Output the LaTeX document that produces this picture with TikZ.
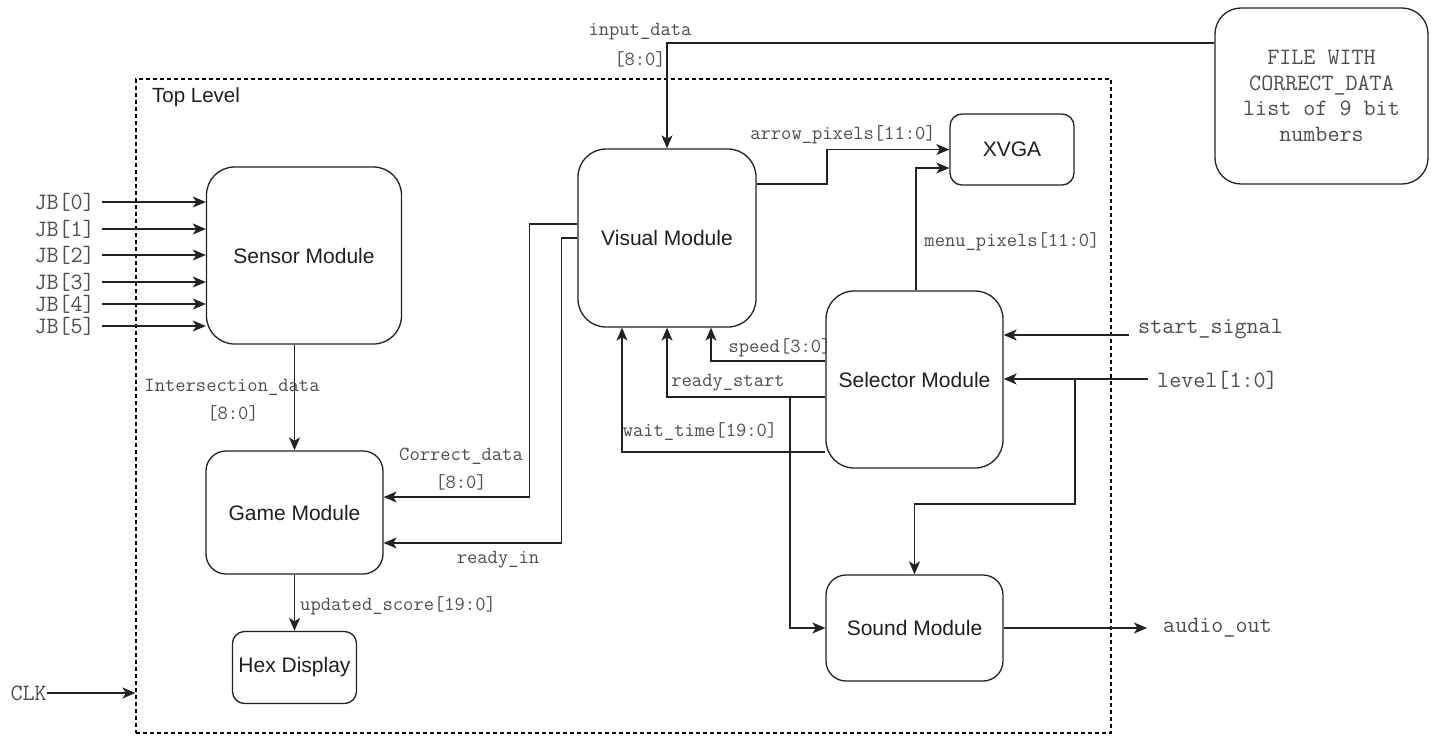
\documentclass[tikz,border=0pt]{standalone}
\usepackage{fontspec}
\setmainfont{Liberation Sans}
\usetikzlibrary{arrows.meta,calc}
\definecolor{linec}{HTML}{222222}
\definecolor{labelc}{HTML}{4d4d4d}
\tikzset{
  block/.style={draw=linec, line width=1.3pt, rounded corners=#1, align=center,
    inner sep=0pt, font=\fontsize{21}{25}\selectfont, text=black!88},
  block/.default=28pt,
  sig/.style={font=\ttfamily\fontsize{20}{24}\selectfont, text=labelc, inner sep=0pt},
  extsig/.style={font=\ttfamily\fontsize{23.4}{28}\selectfont, text=labelc, inner sep=0pt},
  wire/.style={draw=linec, line width=1.7pt},
  arr/.style={wire, -{Stealth[length=13pt,width=11pt,inset=3.5pt]}},
}
\begin{document}
\begin{tikzpicture}[x=1pt,y=-1pt]
\useasboundingbox (0,0) rectangle (1435,736);

% top-level frame
\node[draw=black, dash pattern=on 4pt off 3pt, line width=1.2pt,
      minimum width=975pt, minimum height=654pt, inner sep=0pt] (top) at (623.5,406) {};
\node[anchor=west, inner sep=0pt, font=\fontsize{20.5}{24}\selectfont, text=black!88] (toplbl) at (152,97) {Top Level};

% modules
\node[block, minimum width=195pt, minimum height=177pt] (sensor) at (304,255.5) {Sensor Module};
\node[block, minimum width=178pt, minimum height=178pt] (vis) at (667,238) {Visual Module};
\node[block=12pt, minimum width=124pt, minimum height=71pt] (xvga) at (1012,149.5) {XVGA};
\node[block=26pt, minimum width=213pt, minimum height=176pt,
      font=\ttfamily\fontsize{23.4}{25.5}\selectfont, text=labelc] (file) at (1321.5,96)
      {FILE WITH\\CORRECT\_DATA\\list of 9 bit\\numbers};
\node[block, minimum width=177pt, minimum height=177pt] (sel) at (914.5,379.5) {Selector Module};
\node[block=20pt, minimum width=177pt, minimum height=123pt] (game) at (294.5,512.5) {Game Module};
\node[block=12pt, minimum width=124pt, minimum height=72pt] (hex) at (294.5,667.5) {Hex Display};
\node[block=20pt, minimum width=177pt, minimum height=106pt] (sound) at (914.5,628) {Sound Module};

% JB inputs
\foreach \i/\y in {0/202,1/229,2/255,3/282,4/304,5/326}{
  \node[extsig, anchor=east] (jb\i) at (95,\y) {JB[\i]};
  \draw[arr] ([xshift=7pt]jb\i.east) -- (sensor.west |- jb\i.east);
}

% clock
\node[extsig, anchor=east] (clk) at (47,693) {CLK};
\draw[arr] (clk.east) -- (top.west |- clk.east);

% sensor -> game
\draw[arr] (sensor.south -| game.north) -- (game.north);
\node[sig] (lintersect) at (232,387) {Intersection\_data};
\node[sig] (lintersectb) at (233,413) {[8:0]};

% visual -> game
\draw[arr] ([yshift=14pt]vis.west) -- ++(-48,0) |- ([yshift=15.5pt]game.east);
\draw[arr] (vis.west) -- ++(-16,0) |- ([yshift=-30.5pt]game.east);
\node[sig] (lcorrect) at (461,456) {Correct\_data};
\node[sig] (lcorrectb) at (461,482) {[8:0]};
\node[sig] (lreadyin) at (498,560) {ready\_in};

% game -> hex
\draw[arr] (game.south) -- (hex.north);
\node[sig, anchor=west] (lscore) at (300,606) {updated\_score[19:0]};

% file -> visual
\draw[arr] ([yshift=53pt]file.west) -| (vis.north);
\node[sig] (linput) at (640,32) {input\_data};
\node[sig] (linputb) at (640,59) {[8:0]};

% visual -> xvga
\draw[arr] ([yshift=54pt]vis.east) -- ++(70,0) |- (xvga.west);
\node[sig] (larrow) at (843,135) {arrow\_pixels[11:0]};

% selector -> xvga
\draw[arr] ([xshift=1.5pt]sel.north) |- ([yshift=-18.5pt]xvga.west);
\node[sig] (lmenu) at (1012,242) {menu\_pixels[11:0]};

% selector -> visual
\draw[arr] ([yshift=18.5pt]sel.west) -| ([xshift=44pt]vis.south);
\draw[arr] ([yshift=-17.5pt]sel.west) -| (vis.south);
\draw[arr] ([yshift=-72.5pt]sel.west) -| ([xshift=-45pt]vis.south);
\node[sig] (lspeed) at (780,348) {speed[3:0]};
\node[sig] (lready) at (728,383) {ready\_start};
\node[sig] (lwait) at (700,432) {wait\_time[19:0]};

% ready_start branch -> sound
\coordinate (rsb) at (790,397);
\draw[arr] (rsb) |- (sound.west);

% external inputs to selector
\node[extsig, anchor=west] (lstart) at (1138,329) {start\_signal};
\coordinate (ssin) at (1129,335);
\draw[arr] (ssin) -- (sel.east |- ssin);
\node[extsig, anchor=west] (llevel) at (1157,380) {level[1:0]};
\coordinate (lvin) at (1148,379);
\draw[arr] (lvin) -- (sel.east |- lvin);
\coordinate (lvb) at (1075,379);
\coordinate (lvturn) at (1075,504);
\draw[arr] (lvb) -- (lvturn) -| (sound.north);

% sound output
\node[extsig, anchor=west] (laudio) at (1163,628) {audio\_out};
\draw[arr] (sound.east) -- ([xshift=-16pt]laudio.west);
\end{tikzpicture}
\end{document}
